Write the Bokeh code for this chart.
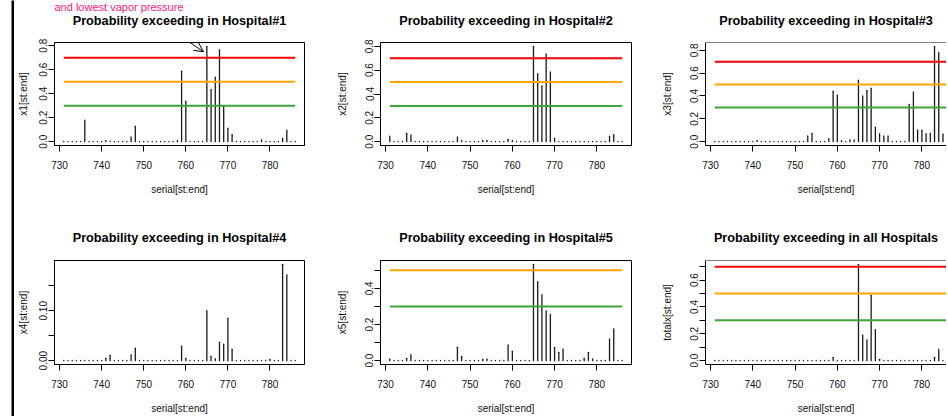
from bokeh.plotting import figure
from bokeh.layouts import row, column
from bokeh.models import Range1d, FixedTicker, Span, Arrow, OpenHead, Title
from bokeh.embed import file_html
from bokeh.resources import INLINE

# ---------------- data ----------------
serial = list(range(731, 787))  # serial[st:end]

x1 = [0.002, 0.002, 0.002, 0.002, 0.002, 0.18, 0.002, 0.002, 0.002, 0.002,
      0.01, 0.002, 0.002, 0.002, 0.002, 0.002, 0.04, 0.13, 0.002, 0.002,
      0.002, 0.002, 0.002, 0.002, 0.002, 0.002, 0.002, 0.01, 0.587, 0.338,
      0.002, 0.002, 0.002, 0.002, 0.795, 0.435, 0.537, 0.767, 0.30, 0.113,
      0.06, 0.002, 0.002, 0.002, 0.002, 0.002, 0.002, 0.015, 0.002, 0.002,
      0.002, 0.002, 0.03, 0.097, 0.002, 0.002]

x2 = [0.047, 0.002, 0.002, 0.002, 0.07, 0.056, 0.002, 0.002, 0.002, 0.002,
      0.002, 0.002, 0.002, 0.002, 0.002, 0.002, 0.04, 0.01, 0.002, 0.002,
      0.002, 0.002, 0.01, 0.01, 0.002, 0.002, 0.002, 0.002, 0.02, 0.01,
      0.002, 0.002, 0.002, 0.002, 0.80, 0.57, 0.465, 0.736, 0.585, 0.03,
      0.002, 0.002, 0.002, 0.002, 0.002, 0.002, 0.002, 0.002, 0.002, 0.002,
      0.002, 0.002, 0.047, 0.06, 0.002, 0.002]

x3 = [0.002, 0.002, 0.002, 0.002, 0.002, 0.002, 0.002, 0.002, 0.002, 0.002,
      0.01, 0.002, 0.002, 0.002, 0.002, 0.002, 0.002, 0.002, 0.002, 0.002,
      0.002, 0.002, 0.05, 0.073, 0.002, 0.002, 0.002, 0.026, 0.442, 0.407,
      0.01, 0.002, 0.015, 0.015, 0.538, 0.40, 0.45, 0.468, 0.128, 0.07,
      0.05, 0.05, 0.002, 0.002, 0.002, 0.002, 0.326, 0.436, 0.10, 0.10,
      0.07, 0.075, 0.835, 0.78, 0.065, 0.002]

x4 = [0.0005, 0.0005, 0.0005, 0.0005, 0.0005, 0.0005, 0.0005, 0.0005, 0.0005, 0.0005,
      0.005, 0.011, 0.0005, 0.0005, 0.0005, 0.0005, 0.012, 0.025, 0.0005, 0.0005,
      0.0005, 0.0005, 0.0005, 0.0005, 0.0005, 0.0005, 0.0005, 0.0005, 0.029, 0.005,
      0.0005, 0.0005, 0.0005, 0.0005, 0.10, 0.009, 0.004, 0.037, 0.033, 0.085,
      0.023, 0.0005, 0.0005, 0.0005, 0.0005, 0.0005, 0.0005, 0.0005, 0.0005, 0.003,
      0.0005, 0.0005, 0.193, 0.172, 0.0005, 0.0005]

x5 = [0.009, 0.002, 0.002, 0.002, 0.013, 0.033, 0.002, 0.002, 0.002, 0.002,
      0.002, 0.002, 0.002, 0.002, 0.002, 0.002, 0.074, 0.024, 0.002, 0.002,
      0.002, 0.002, 0.008, 0.008, 0.002, 0.002, 0.002, 0.002, 0.087, 0.052,
      0.002, 0.002, 0.002, 0.002, 0.533, 0.437, 0.365, 0.276, 0.256, 0.074,
      0.046, 0.063, 0.002, 0.002, 0.002, 0.002, 0.013, 0.046, 0.01, 0.002,
      0.002, 0.002, 0.12, 0.176, 0.002, 0.002]

totalx = [0.002, 0.002, 0.002, 0.002, 0.002, 0.002, 0.002, 0.002, 0.002, 0.002,
          0.002, 0.002, 0.002, 0.002, 0.002, 0.002, 0.002, 0.002, 0.002, 0.002,
          0.002, 0.002, 0.002, 0.002, 0.002, 0.002, 0.002, 0.002, 0.025, 0.002,
          0.002, 0.002, 0.002, 0.002, 0.717, 0.19, 0.155, 0.487, 0.23, 0.01,
          0.002, 0.002, 0.002, 0.002, 0.002, 0.002, 0.002, 0.002, 0.002, 0.002,
          0.002, 0.002, 0.025, 0.083, 0.002, 0.002]

thresholds = [0.7, 0.5, 0.3]
threshold_colors = ["#FF0000", "#FFA500", "#3DA33D"]

x_ticks = [730, 740, 750, 760, 770, 780]
yt_08 = [0.0, 0.2, 0.4, 0.6, 0.8]
yl_08 = ["0.0", "0.2", "0.4", "0.6", "0.8"]
yt_4 = [0.0, 0.05, 0.10, 0.15]
yl_4 = ["0.00", "", "0.10", ""]
yt_5 = [0.0, 0.1, 0.2, 0.3, 0.4, 0.5]
yl_5 = ["0.0", "", "0.2", "", "0.4", ""]
yt_6 = [0.0, 0.1, 0.2, 0.3, 0.4, 0.5, 0.6, 0.7]
yl_6 = ["0.0", "", "0.2", "", "0.4", "", "0.6", ""]

titles = ["Probability exceeding in Hospital#1", "Probability exceeding in Hospital#2",
          "Probability exceeding in Hospital#3", "Probability exceeding in Hospital#4",
          "Probability exceeding in Hospital#5", "Probability exceeding in all Hospitals"]
ylabs = ["x1[st:end]", "x2[st:end]", "x3[st:end]", "x4[st:end]", "x5[st:end]", "totalx[st:end]"]
xlab = "serial[st:end]"
note = "and lowest vapor pressure"

FONT = "Liberation Sans"
PINK = "#FF1A75"

# pink slide note: fitted into the small space above the first title
note_size = 11
try:
    note_title = Title(text=note, align="left", offset=0, text_font=FONT,
                       text_font_size=f"{note_size}px", text_font_style="normal",
                       text_color=PINK, standoff=-3.3)
    row1_gap = 11.9
except Exception:
    note_size = 10
    note_title = Title(text=note, align="left", offset=0, text_font=FONT,
                       text_font_size=f"{note_size}px", text_font_style="normal",
                       text_color=PINK, standoff=0)
    row1_gap = 9


def panel(title, ylab, ys, yticks, ylabels, width, height, bl, br, bt, bb,
          frame_w, full_w, ylab_standoff, title_gap, cut=False):
    span = serial[-1] - serial[0]
    xa = serial[0] - 0.04 * span
    xb = serial[-1] + 0.04 * span
    if cut:
        xb = xa + (xb - xa) * frame_w / full_w
    ymax = max(ys)
    p = figure(width=width, height=height, output_backend="svg", toolbar_location=None,
               x_range=Range1d(xa, xb), y_range=Range1d(-0.04 * ymax, 1.04 * ymax),
               min_border_left=bl, min_border_right=br, min_border_top=bt,
               min_border_bottom=bb)
    p.background_fill_color = "white"
    p.border_fill_color = "white"
    p.xgrid.visible = False
    p.ygrid.visible = False
    p.title.visible = False
    # invisible spacer keeps the title away from the frame, then the title itself
    p.add_layout(Title(text=" ", text_font_size="1px", standoff=title_gap), "above")
    p.add_layout(Title(text=title, align="center", text_font=FONT, text_font_size="12.7px",
                       text_font_style="bold", text_color="black", standoff=0), "above")

    ax = p.xaxis[0]
    ax.ticker = FixedTicker(ticks=x_ticks)
    ax.axis_label = xlab
    ay = p.yaxis[0]
    ay.ticker = FixedTicker(ticks=yticks)
    ay.major_label_overrides = {t: l for t, l in zip(yticks, ylabels)}
    ay.major_label_orientation = "vertical"
    ay.axis_label = ylab
    for a in (ax, ay):
        a.minor_tick_line_color = None
        a.major_tick_out = 6
        a.major_tick_in = 0
        a.axis_line_color = "black"
        a.major_tick_line_color = "black"
        a.major_label_text_font = FONT
        a.major_label_text_font_size = "10px"
        a.major_label_text_color = "#111111"
        a.axis_label_text_font = FONT
        a.axis_label_text_font_size = "10px"
        a.axis_label_text_font_style = "normal"
        a.axis_label_text_color = "#111111"
    ax.major_label_standoff = 9
    ax.axis_label_standoff = 12
    ay.major_label_standoff = 1
    ay.axis_label_standoff = ylab_standoff

    if cut:
        p.outline_line_color = None
        p.add_layout(Span(location=1.04 * ymax, dimension="width",
                          line_color="black", line_width=1))
    else:
        p.outline_line_color = "black"
        p.outline_line_width = 1

    p.segment(x0=serial, y0=0, x1=serial, y1=ys, line_color="#1a1a1a",
              line_width=1.3, line_cap="round")
    p.segment(x0=serial[0], y0=thresholds, x1=serial[-1], y1=thresholds,
              line_color=threshold_colors, line_width=2)
    return p


# columns: black rule 14 | 311 | 326 | 295 ; rows: 218 | 198
p1 = panel(titles[0], ylabs[0], x1, yt_08, yl_08, 311, 218, 40, 21, 42, 73, 250, 250, 8, row1_gap)
p2 = panel(titles[1], ylabs[1], x2, yt_08, yl_08, 326, 218, 55, 20, 42, 73, 251, 251, 15, row1_gap)
p3 = panel(titles[2], ylabs[2], x3, yt_08, yl_08, 295, 218, 54, 0, 42, 73, 241, 251, 15, row1_gap, cut=True)
p4 = panel(titles[3], ylabs[3], x4, yt_4, yl_4, 311, 198, 40, 21, 42, 52, 250, 250, 8, 13)
p5 = panel(titles[4], ylabs[4], x5, yt_5, yl_5, 326, 198, 55, 20, 42, 52, 251, 251, 15, 13)
p6 = panel(titles[5], ylabs[5], totalx, yt_6, yl_6, 295, 198, 54, 0, 42, 52, 241, 251, 15, 13, cut=True)

p1.add_layout(note_title, "above")

# arrow pointing at the highest bar of Hospital#1
i_top = x1.index(max(x1))
x_end = serial[i_top] - 0.8
y_end = x1[i_top] - 0.045
p1.add_layout(Arrow(x_start=x_end - 17.8, y_start=y_end + 0.425, x_end=x_end, y_end=y_end,
                    line_color="black", line_width=1,
                    end=OpenHead(size=9, line_width=1, line_color="black")))

# black vertical rule at the left edge of the slide
rule = figure(width=14, height=416, output_backend="svg", toolbar_location=None,
              x_axis_location=None, y_axis_location=None,
              min_border_left=11, min_border_right=0, min_border_top=0, min_border_bottom=0)
rule.title.visible = False
rule.outline_line_color = None
rule.background_fill_color = "black"
rule.border_fill_color = "white"
rule.xgrid.visible = False
rule.ygrid.visible = False

layout = row(rule, column(row(p1, p2, p3), row(p4, p5, p6)))
open("out.html", "w").write(file_html(layout, INLINE))
